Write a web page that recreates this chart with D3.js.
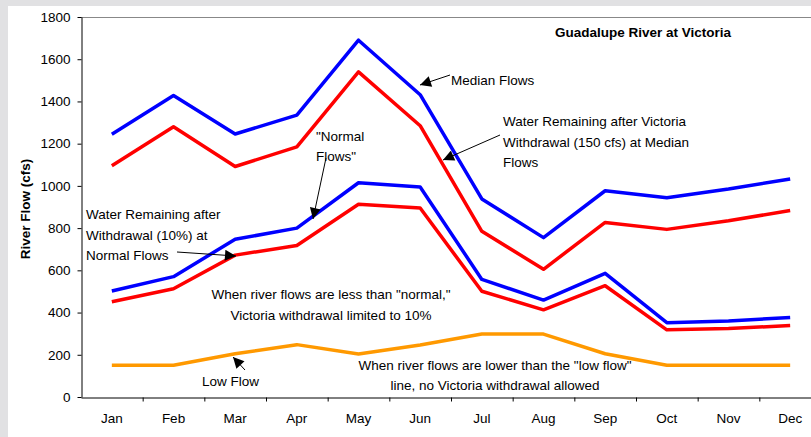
<!DOCTYPE html>
<meta charset="utf-8">
<style>
    body { margin: 0; background: #fff; }
    text { font-family: "Liberation Sans", Arial, sans-serif; font-size: 13.5px; fill: #000; }
    .title, .ytitle { font-weight: bold; }
    .series { fill: none; stroke-width: 3.5; stroke-linejoin: round; }
    .note line { stroke: #000; stroke-width: 1; }
</style>

<svg width="811" height="437"></svg>
<script src="https://d3js.org/d3.v7.min.js"></script>

<script>
    var months = ["Jan", "Feb", "Mar", "Apr", "May", "Jun", "Jul", "Aug", "Sep", "Oct", "Nov", "Dec"];
    var medianFlow   = [1245, 1428, 1246, 1335, 1690, 1432, 938, 755, 977, 944, 985, 1033];
    var medianAfter  = [1095, 1280, 1092, 1185, 1540, 1285, 785, 605, 827, 794, 835, 883];
    var normalFlow   = [502, 570, 747, 800, 1015, 995, 557, 459, 586, 352, 360, 377];
    var normalAfter  = [451, 513, 672, 718, 913, 895, 501, 413, 527, 318, 324, 339];
    var lowFlow      = [150, 150, 205, 248, 204, 246, 298, 298, 205, 150, 150, 150];
    var yTicks = [0, 200, 400, 600, 800, 1000, 1200, 1400, 1600, 1800];

    var svg = d3.select("svg"),
        width = +svg.attr("width"),
        height = +svg.attr("height");
    var plotL = 81, plotR = 821, plotT = 17, plotB = 397;

    // grey chart frame, only its top and left edges show
    svg.append("rect").attr("width", width).attr("height", height).attr("fill", "#e1e1e3");
    svg.append("rect").attr("x", 8).attr("y", 6).attr("width", width).attr("height", height).attr("fill", "#fff");

    var x = d3.scaleBand().domain(months).range([plotL, plotR]);
    var xi = d3.scaleLinear().domain([0, 12]).range([plotL, plotR]);
    var y = d3.scaleLinear().domain([0, 1800]).range([plotB, plotT]);

    svg.append("line")
        .attr("x1", plotL).attr("x2", plotR).attr("y1", plotT + 0.5).attr("y2", plotT + 0.5)
        .attr("stroke", "#888");

    var ya = svg.append("g")
        .attr("transform", "translate(" + (plotL + 0.5) + ",0)")
        .call(d3.axisLeft(y).tickValues(yTicks).tickFormat(d3.format("d")).tickSize(4).tickPadding(7).tickSizeOuter(0));
    var xa = svg.append("g")
        .attr("transform", "translate(0," + (plotB + 0.5) + ")")
        .call(d3.axisBottom(xi).tickValues(d3.range(1, 13)).tickFormat("").tickSize(4).tickSizeOuter(0));
    var xl = svg.append("g")
        .attr("transform", "translate(0," + plotB + ")")
        .call(d3.axisBottom(x).tickSize(0).tickPadding(16));
    xl.select(".domain").remove();
    svg.selectAll(".tick text").attr("font-size", null).attr("font-family", null);
    svg.selectAll("g").attr("font-size", null).attr("font-family", null);
    svg.selectAll(".domain, .tick line").attr("stroke", "#000");

    svg.append("text").attr("class", "ytitle")
        .attr("transform", "translate(30,209) rotate(-90)")
        .attr("text-anchor", "middle")
        .text("River Flow (cfs)");

    var line = d3.line()
        .x(function (d, i) { return x(months[i]) + x.bandwidth() / 2; })
        .y(function (d) { return y(d); });

    [[medianFlow, "#0000ff"], [medianAfter, "#ff0000"], [normalFlow, "#0000ff"],
     [normalAfter, "#ff0000"], [lowFlow, "#ff9900"]].forEach(function (s) {
        svg.append("path").attr("class", "series").attr("d", line(s[0])).attr("stroke", s[1]);
    });

    svg.append("defs").append("marker")
        .attr("id", "head")
        .attr("markerUnits", "userSpaceOnUse")
        .attr("viewBox", "0 -5 10 10")
        .attr("refX", 10).attr("refY", 0)
        .attr("markerWidth", 12).attr("markerHeight", 11)
        .attr("orient", "auto")
        .append("path").attr("d", "M0,-5L10,0L0,5Z").attr("fill", "#000");

    var notes = svg.append("g").attr("class", "note");
    var arrows = [
        [450, 75, 420, 85],
        [500, 135, 443, 160],
        [326, 158, 313, 219],
        [177, 252, 236, 256],
        [245, 370, 233, 357]
    ];
    arrows.forEach(function (a) {
        notes.append("line")
            .attr("x1", a[0]).attr("y1", a[1]).attr("x2", a[2]).attr("y2", a[3])
            .attr("marker-end", "url(#head)");
    });

    function label(xp, ys, lines, anchor, cls) {
        var t = svg.append("text").attr("text-anchor", anchor || "start");
        if (cls) t.attr("class", cls);
        lines.forEach(function (s, i) {
            t.append("tspan").attr("x", xp).attr("y", ys[i]).text(s);
        });
    }
    label(555, [37], ["Guadalupe River at Victoria"], "start", "title");
    label(451, [85], ["Median Flows"]);
    label(503, [126, 147, 167], ["Water Remaining after Victoria", "Withdrawal (150 cfs) at Median", "Flows"]);
    label(316, [141, 161], ["\"Normal", "Flows\""]);
    label(86, [219, 240, 260], ["Water Remaining after", "Withdrawal (10%) at", "Normal Flows"]);
    label(331, [299, 320], ["When river flows are less than \"normal,\"", "Victoria withdrawal limited to 10%"], "middle");
    label(202, [386], ["Low Flow"]);
    label(495, [370, 390], ["When river flows are lower than the \"low flow\"", "line, no Victoria withdrawal allowed"], "middle");
</script>
